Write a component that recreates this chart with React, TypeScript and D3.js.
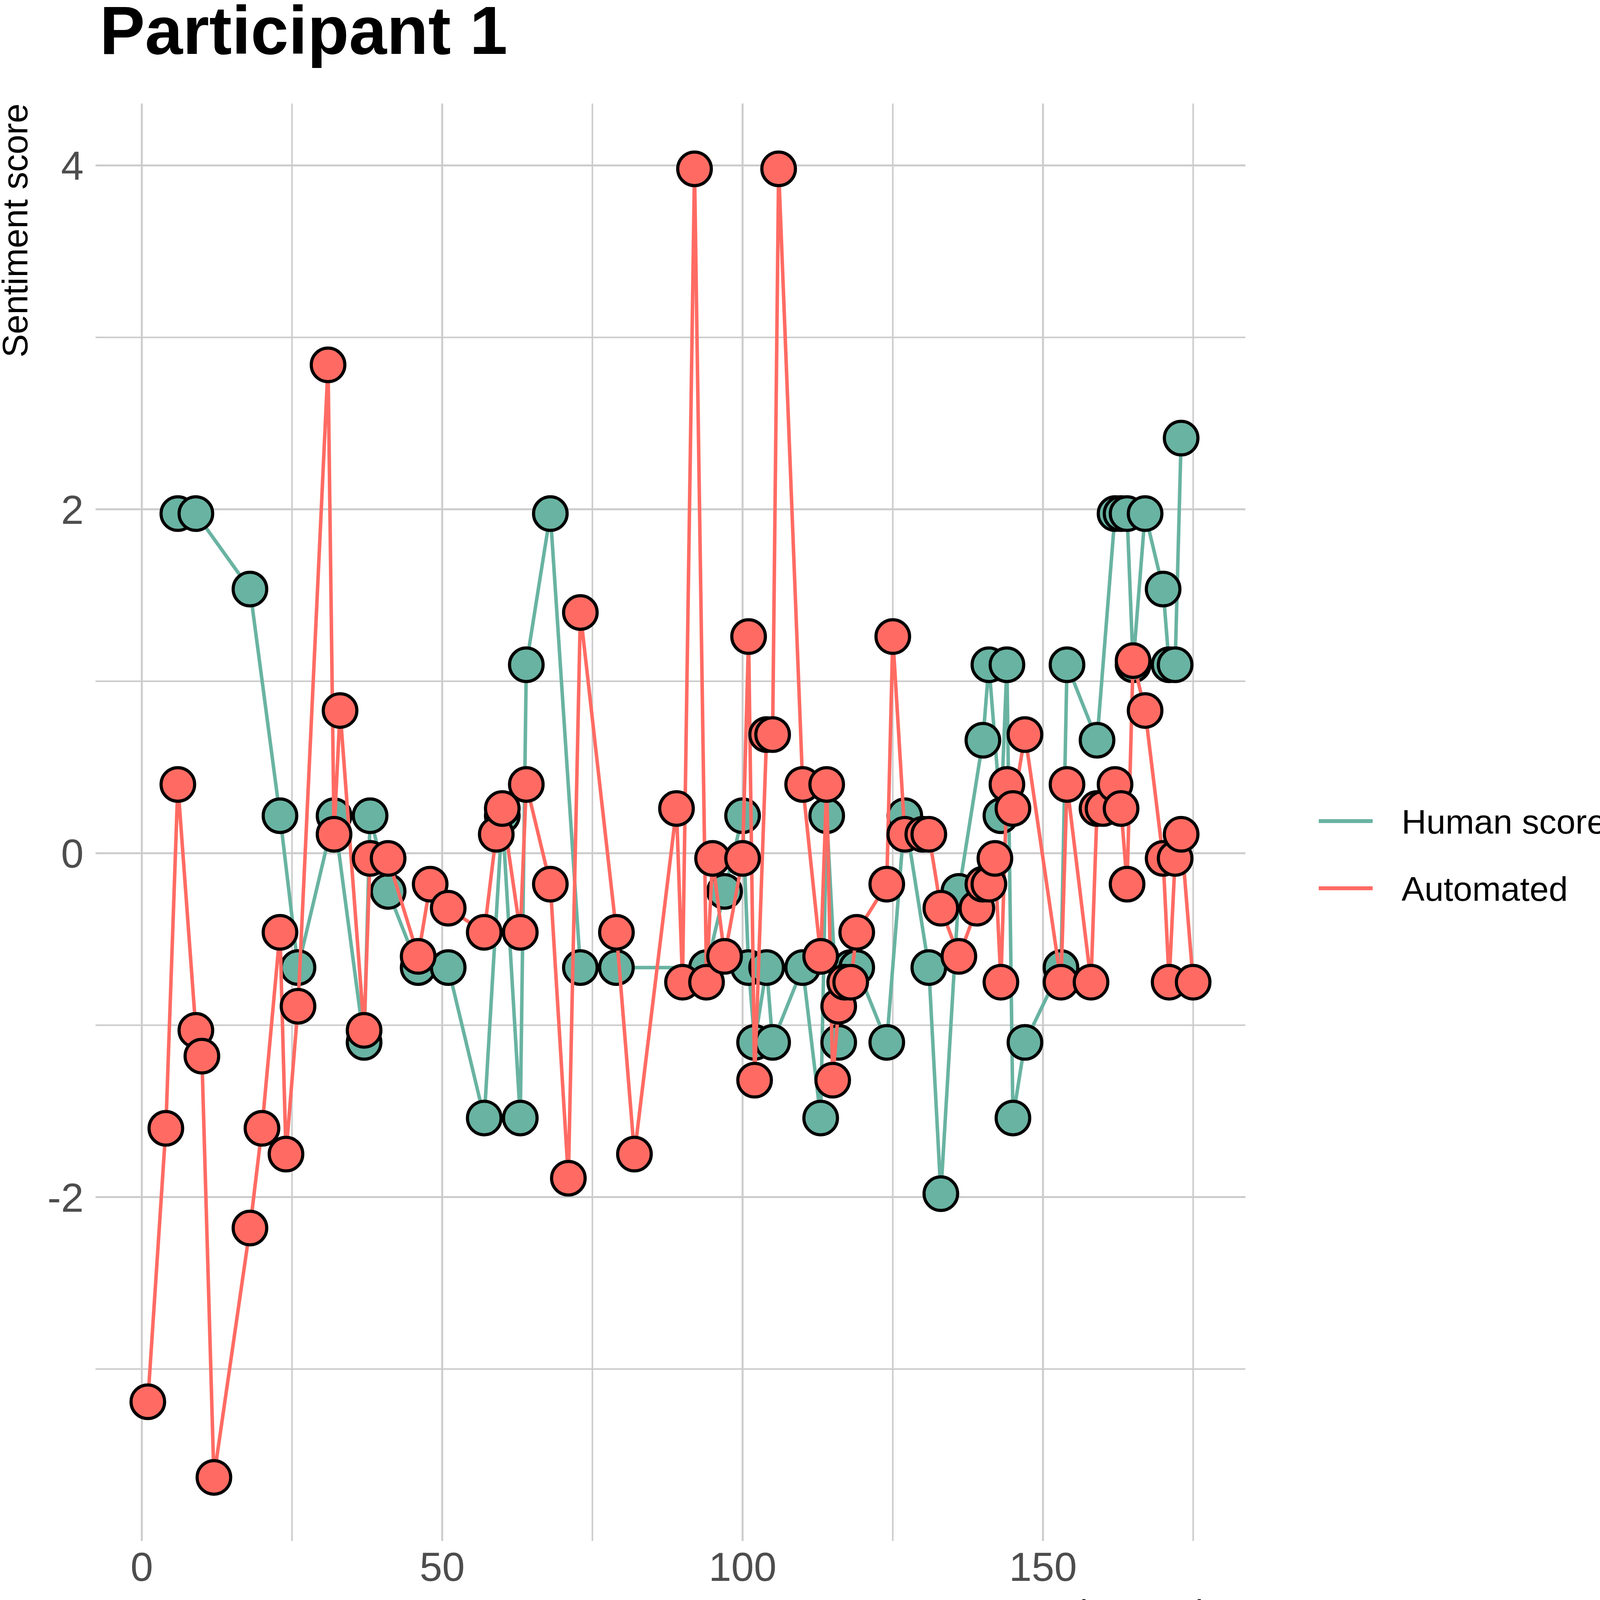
import React, { useEffect, useRef } from "react";
import * as d3 from "d3";

// values (transcript number, score)
const humanTranscript = [
  6, 9, 18, 23, 26, 32, 37, 38, 41, 46, 51, 57, 60, 63, 64, 68, 73, 79, 94, 97,
  100, 101, 102, 104, 105, 110, 113, 114, 116, 118, 119, 124, 127, 131, 133,
  136, 140, 141, 143, 144, 145, 147, 153, 154, 159, 162, 163, 164, 165, 167,
  170, 171, 172, 173,
];
const humanScore = [
  1.975, 1.975, 1.536, 0.218, -0.665, 0.218, -1.1, 0.218, -0.222, -0.665,
  -0.665, -1.54, 0.218, -1.54, 1.096, 1.975, -0.665, -0.665, -0.665, -0.222,
  0.218, -0.665, -1.1, -0.665, -1.1, -0.665, -1.54, 0.218, -1.1, -0.665,
  -0.665, -1.1, 0.218, -0.665, -1.98, -0.222, 0.657, 1.096, 0.218, 1.096,
  -1.54, -1.1, -0.665, 1.096, 0.657, 1.975, 1.975, 1.975, 1.096, 1.975, 1.536,
  1.096, 1.096, 2.414,
];

const autoTranscript = [
  1, 4, 6, 9, 10, 12, 18, 20, 23, 24, 26, 31, 32, 33, 37, 38, 41, 46, 48, 51,
  57, 59, 60, 63, 64, 68, 71, 73, 79, 82, 89, 90, 92, 94, 95, 97, 100, 101,
  102, 104, 105, 106, 110, 113, 114, 115, 116, 117, 118, 119, 124, 125, 127,
  130, 131, 133, 136, 139, 140, 141, 142, 143, 144, 145, 147, 153, 154, 158,
  159, 160, 162, 163, 164, 165, 167, 170, 171, 172, 173, 175,
];
const autoScore = [
  -3.19, -1.6, 0.4, -1.03, -1.18, -3.63, -2.18, -1.6, -0.46, -1.75, -0.89,
  2.84, 0.11, 0.83, -1.03, -0.03, -0.03, -0.6, -0.18, -0.32, -0.46, 0.11,
  0.26, -0.46, 0.4, -0.18, -1.89, 1.4, -0.46, -1.75, 0.26, -0.75, 3.98, -0.75,
  -0.03, -0.6, -0.03, 1.26, -1.32, 0.69, 0.69, 3.98, 0.4, -0.6, 0.4, -1.32,
  -0.89, -0.75, -0.75, -0.46, -0.18, 1.26, 0.11, 0.11, 0.11, -0.32, -0.6,
  -0.32, -0.18, -0.18, -0.03, -0.75, 0.4, 0.26, 0.69, -0.75, 0.4, -0.75, 0.26,
  0.26, 0.4, 0.26, -0.18, 1.12, 0.83, -0.03, -0.75, -0.03, 0.11, -0.75,
];

const seriesNames = ["Human score", "Automated"];
const seriesColors = ["#69b3a2", "#ff6b63"];

const xTicks = [0, 50, 100, 150];
const xMinorTicks = [25, 75, 125, 175];
const yTicks = [-2, 0, 2, 4];
const yMinorTicks = [-3, -1, 1, 3];

const W = 4134;
const H = 4191;
const font = "'Liberation Sans', Arial, Helvetica, sans-serif";

const App = () => {
  const ref = useRef<SVGSVGElement>(null);

  useEffect(() => {
    const svg = d3.select(ref.current);
    svg.selectAll("*").remove();

    const left = 244.6;
    const right = 3188.3;
    const top = 265;
    const bottom = 3945;

    const x = d3.scaleLinear().domain([-7.7, 183.7]).range([left, right]);
    const y = d3.scaleLinear().domain([-4.0, 4.36]).range([bottom, top]);

    svg.append("rect").attr("width", W).attr("height", H).attr("fill", "white");

    // grid: minor then major
    const grid = svg.append("g");
    const vLines = (ticks: number[], w: number) =>
      grid
        .append("g")
        .selectAll("line")
        .data(ticks)
        .enter()
        .append("line")
        .attr("x1", (d) => x(d))
        .attr("x2", (d) => x(d))
        .attr("y1", top)
        .attr("y2", bottom)
        .style("stroke", "#cccccc")
        .style("stroke-width", w);
    const hLines = (ticks: number[], w: number) =>
      grid
        .append("g")
        .selectAll("line")
        .data(ticks)
        .enter()
        .append("line")
        .attr("x1", left)
        .attr("x2", right)
        .attr("y1", (d) => y(d))
        .attr("y2", (d) => y(d))
        .style("stroke", "#cccccc")
        .style("stroke-width", w);
    vLines(xMinorTicks, 4);
    hLines(yMinorTicks, 4);
    vLines(xTicks, 5);
    hLines(yTicks, 5);

    // tick labels
    svg
      .selectAll(".xlab")
      .data(xTicks)
      .enter()
      .append("text")
      .attr("x", (d) => x(d))
      .attr("y", 4047)
      .attr("text-anchor", "middle")
      .style("font-family", font)
      .style("font-size", "104px")
      .style("fill", "#4d4d4d")
      .text((d) => String(d));

    svg
      .selectAll(".ylab")
      .data(yTicks)
      .enter()
      .append("text")
      .attr("x", 214)
      .attr("y", (d) => y(d) + 37)
      .attr("text-anchor", "end")
      .style("font-family", font)
      .style("font-size", "104px")
      .style("fill", "#4d4d4d")
      .text((d) => String(d));

    // series: line + points, human first, automated on top
    const series = [
      d3.zip(humanTranscript, humanScore) as [number, number][],
      d3.zip(autoTranscript, autoScore) as [number, number][],
    ];

    const line = d3
      .line<[number, number]>()
      .x((d) => x(d[0]))
      .y((d) => y(d[1]));

    series.forEach((pts, i) => {
      svg
        .append("path")
        .datum(pts)
        .attr("d", line)
        .style("fill", "none")
        .style("stroke", seriesColors[i])
        .style("stroke-width", 9)
        .style("stroke-linejoin", "round");

      svg
        .append("g")
        .selectAll("circle")
        .data(pts)
        .enter()
        .append("circle")
        .attr("cx", (d) => x(d[0]))
        .attr("cy", (d) => y(d[1]))
        .attr("r", 43)
        .style("fill", seriesColors[i])
        .style("stroke", "black")
        .style("stroke-width", 8);
    });

    // legend
    const legend = svg.append("g");
    seriesNames.forEach((name, i) => {
      const ly = 2102 + i * 172;
      legend
        .append("line")
        .attr("x1", 3376)
        .attr("x2", 3514)
        .attr("y1", ly)
        .attr("y2", ly)
        .style("stroke", seriesColors[i])
        .style("stroke-width", 10);
      legend
        .append("text")
        .attr("x", 3588)
        .attr("y", ly + 32)
        .style("font-family", font)
        .style("font-size", "88px")
        .style("fill", "black")
        .text(name);
    });

    // titles
    svg
      .append("text")
      .attr("x", 255)
      .attr("y", 138)
      .style("font-family", font)
      .style("font-size", "174px")
      .style("font-weight", "bold")
      .style("fill", "black")
      .text("Participant 1");

    svg
      .append("text")
      .attr("x", 3190)
      .attr("y", 4160)
      .attr("text-anchor", "end")
      .style("font-family", font)
      .style("font-size", "90px")
      .style("fill", "black")
      .text("Transcript number");

    svg
      .append("text")
      .attr("transform", "translate(70," + top + ") rotate(-90)")
      .attr("text-anchor", "end")
      .style("font-family", font)
      .style("font-size", "90px")
      .style("fill", "black")
      .text("Sentiment score");
  }, []);

  return (
    <svg
      ref={ref}
      width={W}
      height={H}
      style={{ position: "absolute", left: 0, top: 0, display: "block" }}
    ></svg>
  );
};

export default App;
